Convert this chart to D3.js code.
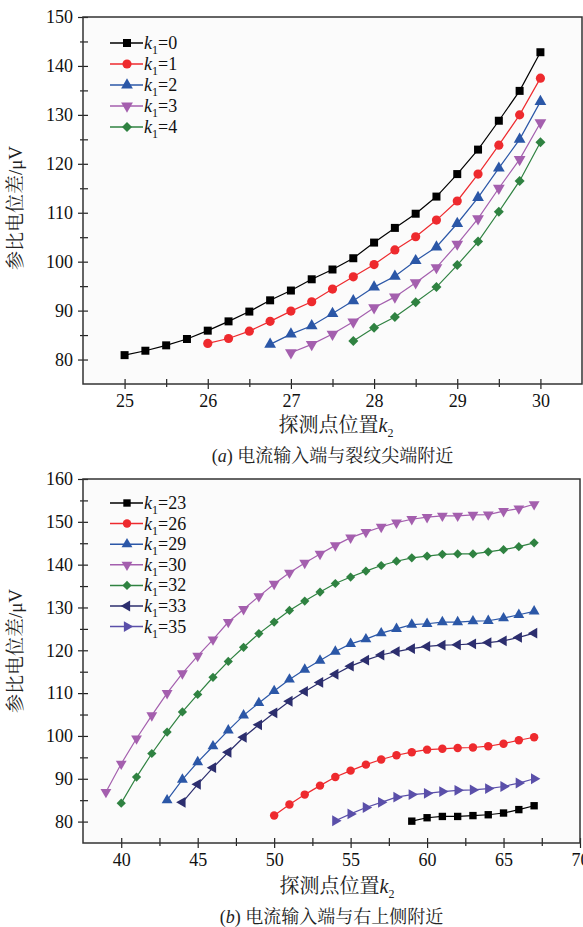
<!DOCTYPE html>
<html><head><meta charset="utf-8">
<script src="https://cdn.jsdelivr.net/npm/d3@7"></script>
<style>body{margin:0;background:#fff} text{font-family:'Liberation Serif','Times New Roman',serif}</style>
</head><body><svg id="c" width="583" height="927"></svg>
<script>
// ---------- data: chart (a) ----------
const topK2 = [25,25.25,25.5,25.75,26,26.25,26.5,26.75,27,27.25,27.5,27.75,28,28.25,28.5,28.75,29,29.25,29.5,29.75,30];
const topLabels = ["0","1","2","3","4"];
const topK1_0 = [80.9,81.8,82.9,84.2,85.9,87.8,89.8,92.1,94.1,96.4,98.4,100.7,103.9,106.9,109.8,113.3,117.9,122.9,128.8,134.9,142.8];
const topK1_1 = [83.3,84.3,85.8,87.8,89.9,91.8,94.4,96.9,99.4,102.4,105.1,108.5,112.4,117.9,123.8,130.0,137.5];
const topK1_2 = [83.1,85.2,86.9,89.4,92.0,94.8,97.0,100.2,103.0,107.8,113.1,119.1,125.0,132.7];
const topK1_3 = [81.4,83.1,85.2,87.7,90.6,92.8,95.7,98.8,103.6,108.8,115.0,120.9,128.4];
const topK1_4 = [83.8,86.5,88.7,91.7,94.8,99.3,104.1,110.2,116.5,124.4];
const topXTicks = [25,26,27,28,29,30];
const topYTicks = [80,90,100,110,120,130,140,150];

// ---------- data: chart (b) ----------
const botK2 = [39,40,41,42,43,44,45,46,47,48,49,50,51,52,53,54,55,56,57,58,59,60,61,62,63,64,65,66,67];
const botLabels = ["23","26","29","30","32","33","35"];
const botK1_23 = [80.1,80.9,81.2,81.2,81.4,81.6,82.0,82.8,83.7];
const botK1_26 = [81.4,84.0,86.3,88.4,90.4,91.9,93.3,94.5,95.5,96.2,96.8,97.0,97.2,97.3,97.6,98.2,99.0,99.7];
const botK1_29 = [85.0,89.8,93.9,97.6,101.3,104.8,107.7,110.5,113.2,115.5,117.6,119.7,121.5,122.6,124.0,125.0,126.0,126.2,126.6,126.6,126.8,126.9,127.5,128.3,129.1];
const botK1_30 = [86.9,93.5,99.4,104.8,110.0,114.6,118.7,122.5,126.6,129.6,132.6,135.5,138.1,140.4,142.5,144.5,146.3,147.6,148.8,149.8,150.6,151.1,151.4,151.4,151.6,151.7,152.5,153.1,154.1];
const botK1_32 = [84.3,90.4,95.9,100.9,105.6,109.7,113.7,117.4,120.7,123.9,126.6,129.3,131.5,133.6,135.6,137.1,138.5,139.8,140.8,141.6,142.0,142.4,142.5,142.5,143.0,143.5,144.2,145.1];
const botK1_33 = [84.5,88.7,92.6,96.2,99.7,102.6,105.4,108.1,110.4,112.5,114.4,116.3,117.7,118.9,119.7,120.4,120.9,121.2,121.3,121.5,121.8,122.2,123.0,124.0];
const botK1_35 = [80.2,81.8,83.3,84.5,85.7,86.3,86.6,87.0,87.3,87.4,87.7,88.2,89.0,90.0];
const botXTicks = [40,45,50,55,60,65,70];
const botYTicks = [80,90,100,110,120,130,140,150,160];

// ---------- style ----------
const F = "'Liberation Serif','Times New Roman',serif";
const CJK = "'Noto Serif CJK SC','Noto Sans CJK SC',serif";
const shapes = {
  square:{t:d3.symbolSquare,r:0,s:64},
  circle:{t:d3.symbolCircle,r:0,s:66},
  up:{t:d3.symbolTriangle,r:0,s:60},
  down:{t:d3.symbolTriangle,r:180,s:60},
  diamond:{t:d3.symbolSquare,r:45,s:50},
  left:{t:d3.symbolTriangle,r:-90,s:60},
  right:{t:d3.symbolTriangle,r:90,s:60}
};
const svg = d3.select("#c");

function kLabel(g, x, y, num){
  const t = g.append("text").attr("x",x).attr("y",y).style("font-family",F).attr("font-size",18).attr("fill","#111");
  t.append("tspan").attr("font-style","italic").text("k");
  t.append("tspan").attr("font-size",12).attr("dy",5).text("1");
  t.append("tspan").attr("dy",-5).text("="+num);
}

function drawChart(o){
  const g = svg.append("g");
  const x = d3.scaleLinear().domain(o.xDomain).range([o.left,o.right]);
  const y = d3.scaleLinear().domain(o.yDomain).range([o.bottom,o.top]);
  g.append("rect").attr("x",o.left).attr("y",o.top).attr("width",o.right-o.left).attr("height",o.bottom-o.top).attr("fill","#fbfbfb");

  o.series.forEach(s=>{
    const xs = o.k2.slice(o.k2.length - s.values.length);
    const pts = s.values.map((v,i)=>[xs[i],v]);
    const sh = shapes[s.shape];
    g.append("path").datum(pts)
      .attr("d", d3.line().x(d=>x(d[0])).y(d=>y(d[1])))
      .attr("fill","none").attr("stroke",s.color).attr("stroke-width",1.2);
    g.append("g").selectAll("path").data(pts).join("path")
      .attr("transform", d=>`translate(${x(d[0])},${y(d[1])}) rotate(${sh.r})`)
      .attr("d", d3.symbol(sh.t, sh.s*o.ms)())
      .attr("fill", s.color);
  });

  // axes
  const ax = g.append("g").attr("transform",`translate(0,${o.bottom})`)
    .call(d3.axisBottom(x).tickValues(o.xTicks).tickFormat(d3.format("d")).tickSize(5).tickPadding(5));
  ax.selectAll(".tick line").attr("y1",-5);
  ax.selectAll("text").style("font-family",F).attr("font-size",18).attr("fill","#111");
  const axm = g.append("g").attr("transform",`translate(0,${o.bottom})`)
    .call(d3.axisBottom(x).tickValues(o.xMinor).tickSize(3).tickFormat(""));
  axm.selectAll(".tick line").attr("y1",-5);
  const ay = g.append("g").attr("transform",`translate(${o.left},0)`)
    .call(d3.axisLeft(y).tickValues(o.yTicks).tickFormat(d3.format("d")).tickSize(5).tickPadding(5));
  ay.selectAll(".tick line").attr("x1",5);
  ay.selectAll("text").style("font-family",F).attr("font-size",18).attr("fill","#111");
  const aym = g.append("g").attr("transform",`translate(${o.left},0)`)
    .call(d3.axisLeft(y).tickValues(o.yMinor).tickSize(3).tickFormat(""));
  aym.selectAll(".tick line").attr("x1",5);
  g.selectAll(".domain").remove();
  g.selectAll(".tick line").attr("stroke","#222").attr("stroke-width",1.2);

  g.append("rect").attr("x",o.left).attr("y",o.top).attr("width",o.right-o.left).attr("height",o.bottom-o.top)
    .attr("fill","none").attr("stroke","#333").attr("stroke-width",1.5);

  // legend
  o.series.forEach((s,i)=>{
    const ly = o.legY + i*o.legDy;
    const sh = shapes[s.shape];
    g.append("line").attr("x1",o.legX).attr("x2",o.legX+33).attr("y1",ly).attr("y2",ly)
      .attr("stroke",s.color).attr("stroke-width",1.5);
    g.append("path").attr("transform",`translate(${o.legX+17},${ly}) rotate(${sh.r})`)
      .attr("d", d3.symbol(sh.t, sh.s*o.ms)()).attr("fill",s.color);
    kLabel(g, o.legX+34, ly+6, s.label);
  });

  // axis titles
  const yl = g.append("text").attr("transform",`translate(${o.yLabX},${o.yLabY}) rotate(-90)`)
    .attr("text-anchor","middle").attr("font-size",19).attr("fill","#222");
  yl.append("tspan").style("font-family",CJK).text("参比电位差");
  yl.append("tspan").style("font-family",F).text("/μV");
  const xl = g.append("text").attr("x",o.xLabX).attr("y",o.xLabY)
    .attr("text-anchor","middle").attr("font-size",20).attr("fill","#222");
  xl.append("tspan").style("font-family",CJK).text("探测点位置");
  xl.append("tspan").style("font-family",F).attr("font-style","italic").text("k");
  xl.append("tspan").style("font-family",F).attr("font-size",12).attr("dy",5).text("2");
  const cp = g.append("text").attr("x",(o.left+o.right)/2).attr("y",o.capY)
    .attr("text-anchor","middle").attr("font-size",18).attr("fill","#222");
  cp.append("tspan").style("font-family",F).text("(");
  cp.append("tspan").style("font-family",F).attr("font-style","italic").text(o.capLetter);
  cp.append("tspan").style("font-family",F).text(") ");
  cp.append("tspan").style("font-family",CJK).text(o.capText);
}

const colTop = ["#000000","#ee2a2e","#2b57a7","#a45fae","#2f8241"];
const shapesTop = ["square","circle","up","down","diamond"];
const topSeries = [topK1_0,topK1_1,topK1_2,topK1_3,topK1_4].map((v,i)=>({values:v,label:topLabels[i],color:colTop[i],shape:shapesTop[i]}));

drawChart({
  left:83, right:582, top:17, bottom:384,
  xDomain:[24.5,30.5], yDomain:[75,150],
  k2:topK2, series:topSeries, ms:1,
  xTicks:topXTicks, xMinor:[25.5,26.5,27.5,28.5,29.5],
  yTicks:topYTicks, yMinor:[85,95,105,115,125,135,145],
  legX:110, legY:43, legDy:21,
  yLabX:22, yLabY:208, xLabX:336, xLabY:432, capY:462, capLetter:"a", capText:"电流输入端与裂纹尖端附近"
});

const colBot = ["#000000","#ee2a2e","#2b57a7","#a45fae","#2f8241","#2c2e6e","#5a4fa9"];
const shapesBot = ["square","circle","up","down","diamond","left","right"];
const botSeries = [botK1_23,botK1_26,botK1_29,botK1_30,botK1_32,botK1_33,botK1_35].map((v,i)=>({values:v,label:botLabels[i],color:colBot[i],shape:shapesBot[i]}));

drawChart({
  left:83, right:580, top:479, bottom:843,
  xDomain:[37.5,70], yDomain:[75,160],
  k2:botK2, series:botSeries, ms:0.85,
  xTicks:botXTicks, xMinor:[42.5,47.5,52.5,57.5,62.5,67.5],
  yTicks:botYTicks, yMinor:[85,95,105,115,125,135,145,155],
  legX:110, legY:503, legDy:20.6,
  yLabX:22, yLabY:651, xLabX:337, xLabY:893, capY:923, capLetter:"b", capText:"电流输入端与右上侧附近"
});
</script></body></html>
